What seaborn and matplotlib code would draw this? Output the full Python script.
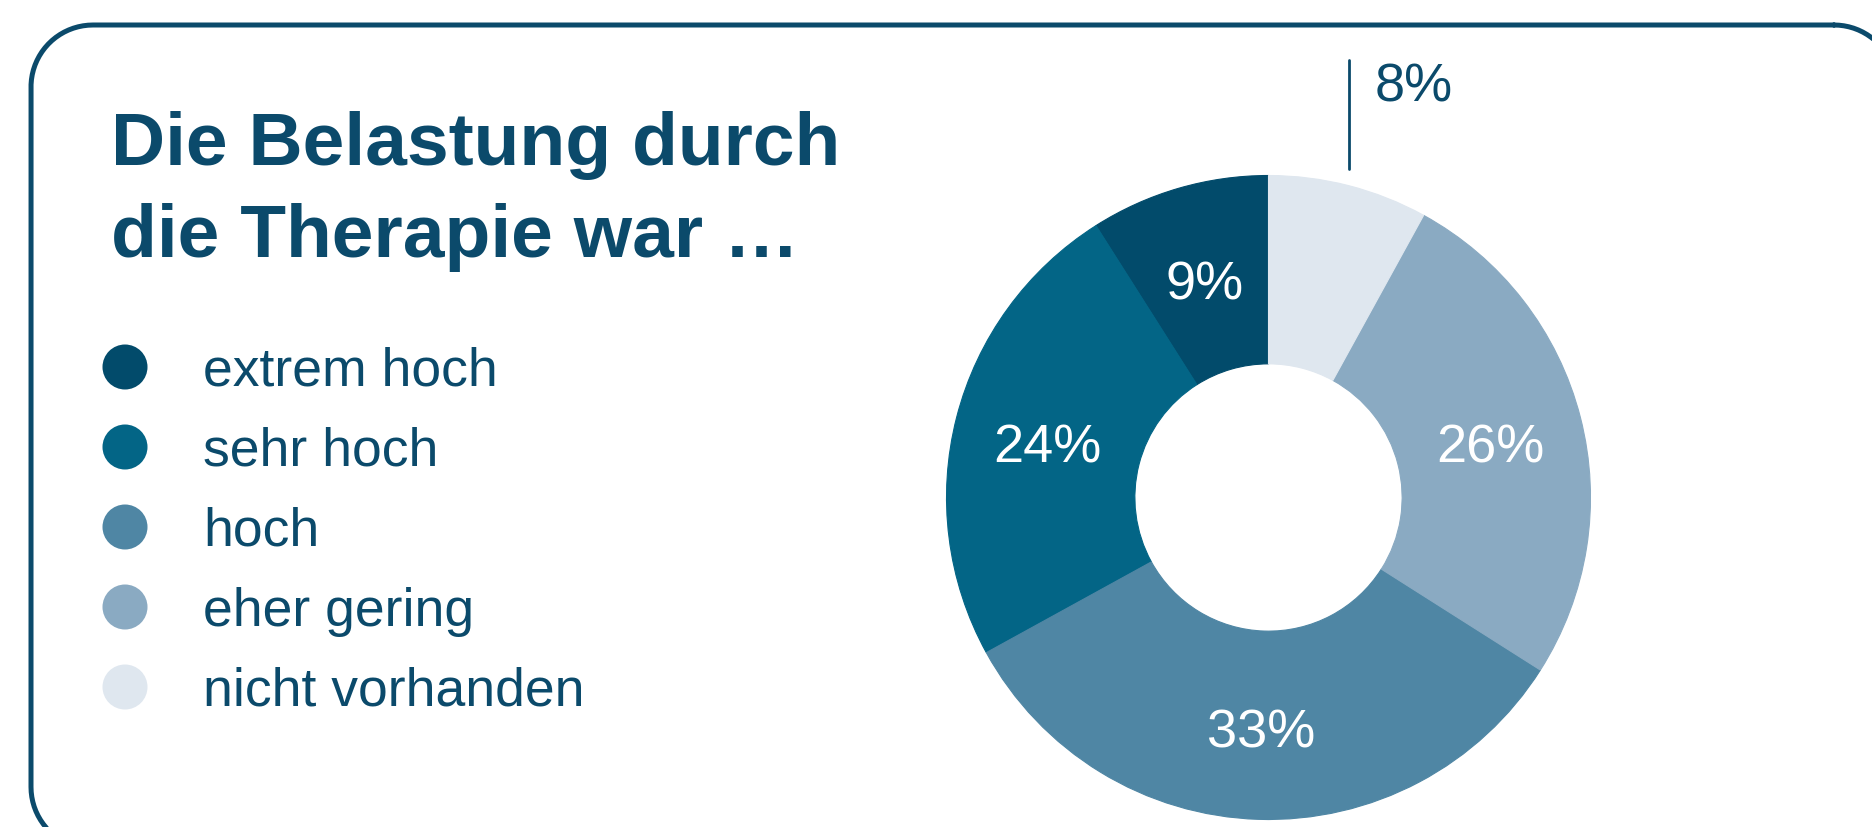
import numpy as np
import pandas as pd
import matplotlib
matplotlib.use("Agg")
import matplotlib.pyplot as plt
import seaborn as sns

# ---- data ----
categories = ["extrem hoch", "sehr hoch", "hoch", "eher gering", "nicht vorhanden"]
values = [9, 24, 33, 26, 8]
colors = ["#024B6B", "#036586", "#4F86A4", "#8AAAC2", "#DFE7EF"]
title_lines = ["Die Belastung durch", "die Therapie war \u2026"]

DARK = "#0B4A6B"

sns.set_theme(style="white")
plt.rcParams["font.family"] = ["Liberation Sans", "DejaVu Sans"]

W, H = 1872, 828
fig = plt.figure(figsize=(W / 100, H / 100), dpi=100)
fig.patch.set_facecolor("white")

def fx(px):
    return px / W

def fy(py):  # py from top
    return 1 - py / H

# background axes in pixel units for the rounded frame
bax = fig.add_axes([0, 0, 1, 1])
bax.set_xlim(0, W)
bax.set_ylim(H, 0)
bax.axis("off")

def rounded_rect(x0, y0, x1, y1, r, n=40):
    xs, ys = [], []
    corners = [(x1 - r, y0 + r, -90, 0), (x1 - r, y1 - r, 0, 90),
               (x0 + r, y1 - r, 90, 180), (x0 + r, y0 + r, 180, 270)]
    for cxr, cyr, a0, a1 in corners:
        t = np.deg2rad(np.linspace(a0, a1, n))
        xs.extend(cxr + r * np.cos(t))
        ys.extend(cyr + r * np.sin(t))
    xs.append(xs[0])
    ys.append(ys[0])
    return xs, ys

fxs, fys = rounded_rect(31, 26, 1896, 850, 62)
bax.plot(fxs, fys, color=DARK, linewidth=3.6, solid_joinstyle="round")

# title
fig.text(fx(111), fy(165), title_lines[0], fontsize=54, fontweight="bold",
         color=DARK, va="baseline", ha="left")
fig.text(fx(111), fy(257), title_lines[1], fontsize=54, fontweight="bold",
         color=DARK, va="baseline", ha="left")

# legend axes: rows 80px apart, first center at 368px
lax = fig.add_axes([0, fy(728), fx(700), 400 / H])
leg_df = pd.DataFrame({"x": [125] * len(categories),
                       "y": list(range(len(categories))),
                       "cat": categories})
sns.scatterplot(data=leg_df, x="x", y="y", hue="cat", palette=colors,
                s=1050, linewidth=0, legend=False, ax=lax)
for i, c in enumerate(categories):
    lax.text(203, i + 0.225, c, fontsize=38.5, color=DARK,
             va="baseline", ha="left")
lax.set_xlim(0, 700)
lax.set_ylim(len(categories) - 0.5, -0.5)
lax.axis("off")

# donut
cx, cy, R = 1268.5, 498.5, 322
ax = fig.add_axes([fx(cx - R), fy(cy + R), fx(2 * R), 2 * R / H])
wedges, _ = ax.pie(values, colors=colors, startangle=90, counterclock=True,
                   radius=1, wedgeprops=dict(width=1 - 0.415, linewidth=0.8,
                                             antialiased=True))
for w, col in zip(wedges, colors):
    w.set_edgecolor(col)
ax.set_xlim(-1, 1)
ax.set_ylim(-1, 1)
ax.axis("off")

for w, v in zip(wedges, values):
    mid = np.deg2rad((w.theta1 + w.theta2) / 2)
    if v < 9:
        x0 = np.cos(mid)
        ax.plot([x0, x0], [1.02, 1.36], color=DARK, linewidth=2,
                solid_capstyle="round", clip_on=False)
        ax.text(x0 + 0.08, 1.232, f"{v}%", fontsize=39, color=DARK,
                ha="left", va="baseline", clip_on=False)
    else:
        r = 0.71
        ax.text(r * np.cos(mid), r * np.sin(mid) - 0.02, f"{v}%", fontsize=39,
                color="white", ha="center", va="center")

fig.savefig("out.png", dpi=100, facecolor="white")
